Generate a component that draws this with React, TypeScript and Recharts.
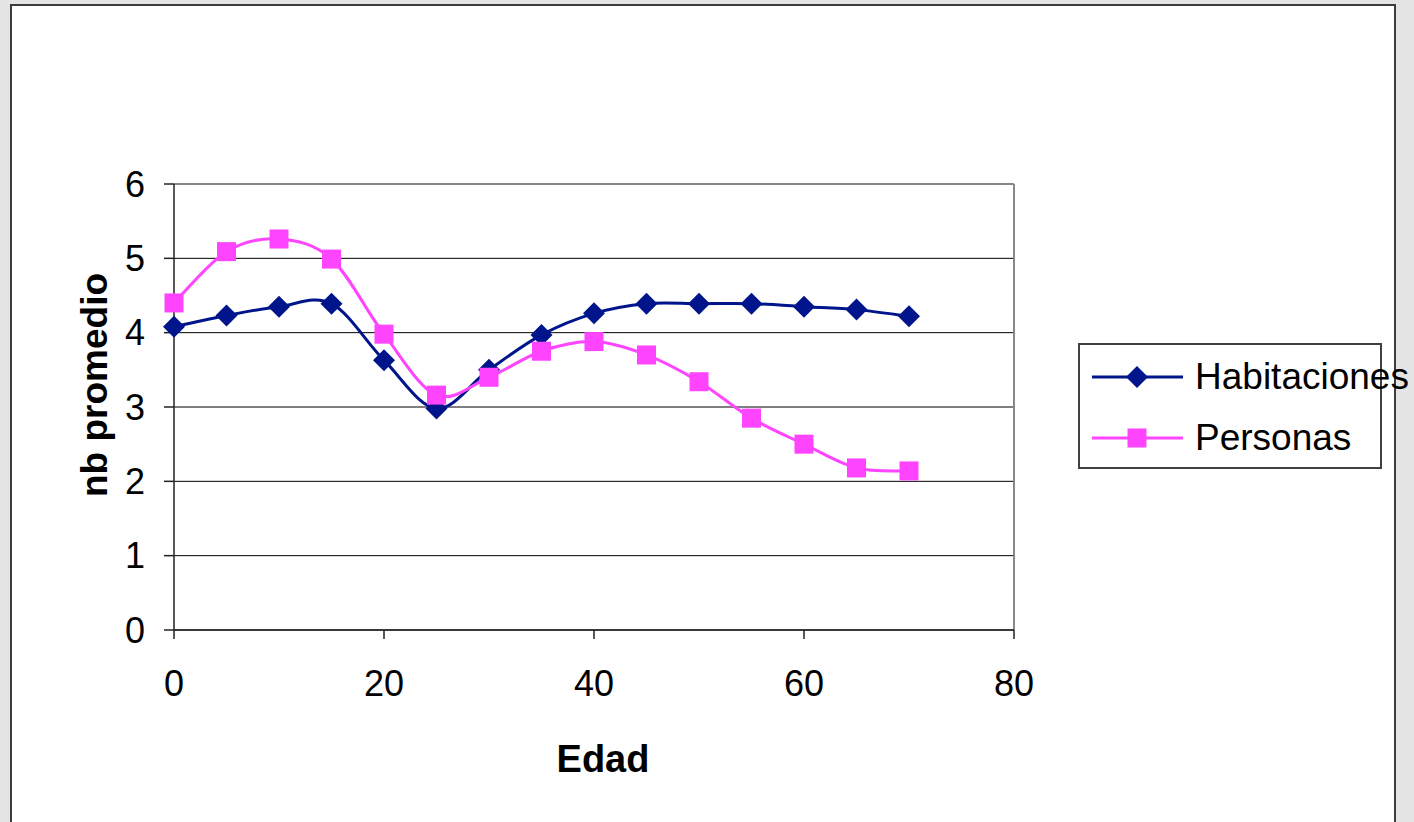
import React from 'react';
import { LineChart, Line, XAxis, YAxis, CartesianGrid, Legend, ReferenceLine, Label } from 'recharts';

const ages = [0, 5, 10, 15, 20, 25, 30, 35, 40, 45, 50, 55, 60, 65, 70];
const habitaciones = [4.08, 4.23, 4.35, 4.39, 3.63, 2.98, 3.5, 3.97, 4.26, 4.39, 4.39, 4.39, 4.35, 4.31, 4.22];
const personas = [4.4, 5.09, 5.26, 4.99, 3.98, 3.16, 3.4, 3.75, 3.88, 3.7, 3.34, 2.85, 2.5, 2.18, 2.14];
const xTicks = [0, 20, 40, 60, 80];
const yTicks = [0, 1, 2, 3, 4, 5, 6];

const NAVY = '#00158C';
const PINK = '#FF44FF';
const FONT = '"Liberation Sans", Arial, sans-serif';

const data = ages.map((a, i) => ({ edad: a, Habitaciones: habitaciones[i], Personas: personas[i] }));

// Excel-like smoothed line (Catmull-Rom as cubic Bezier)
function excelCurve(context: any) {
  let pts: number[][] = [];
  return {
    areaStart() {},
    areaEnd() {},
    lineStart() {
      pts = [];
    },
    lineEnd() {
      const n = pts.length;
      if (n === 0) return;
      context.moveTo(pts[0][0], pts[0][1]);
      for (let i = 0; i < n - 1; i++) {
        const p0 = pts[Math.max(0, i - 1)];
        const p1 = pts[i];
        const p2 = pts[i + 1];
        const p3 = pts[Math.min(n - 1, i + 2)];
        const c1x = p1[0] + (p2[0] - p0[0]) / 6;
        const c1y = p1[1] + (p2[1] - p0[1]) / 6;
        const c2x = p2[0] - (p3[0] - p1[0]) / 6;
        const c2y = p2[1] - (p3[1] - p1[1]) / 6;
        context.bezierCurveTo(c1x, c1y, c2x, c2y, p2[0], p2[1]);
      }
    },
    point(x: number, y: number) {
      pts.push([+x, +y]);
    },
  };
}

const diamondDot = (p: any) => {
  const { cx, cy, index } = p;
  const r = 11;
  return (
    <path
      key={`d-${index}`}
      d={`M${cx},${cy - r}L${cx + r},${cy}L${cx},${cy + r}L${cx - r},${cy}Z`}
      fill={NAVY}
      stroke="none"
    />
  );
};

const squareDot = (p: any) => {
  const { cx, cy, index } = p;
  const s = 19;
  return <rect key={`s-${index}`} x={cx - s / 2} y={cy - s / 2} width={s} height={s} fill={PINK} stroke="none" />;
};

const renderLegend = (props: any) => {
  const payload = props.payload || [];
  return (
    <div
      style={{
        boxSizing: 'border-box',
        width: 304,
        height: 126,
        border: '2px solid #404040',
        background: '#fff',
        fontFamily: FONT,
        position: 'relative',
      }}
    >
      {payload.map((entry: any, i: number) => {
        const isHab = entry.value === 'Habitaciones';
        const color = isHab ? NAVY : PINK;
        return (
          <div
            key={entry.value}
            style={{ position: 'absolute', left: 0, top: i === 0 ? 7 : 68, height: 50, width: 340, display: 'flex', alignItems: 'center' }}
          >
            <svg width={110} height={50} style={{ display: 'block' }}>
              <line x1={12} y1={25} x2={103} y2={25} stroke={color} strokeWidth={3} />
              {isHab ? (
                <path d="M57,14L68,25L57,36L46,25Z" fill={NAVY} />
              ) : (
                <rect x={47.5} y={15.5} width={19} height={19} fill={PINK} />
              )}
            </svg>
            <span style={{ fontSize: 37, color: '#000', marginLeft: 5, whiteSpace: 'nowrap', lineHeight: '50px' }}>{entry.value}</span>
          </div>
        );
      })}
    </div>
  );
};

const YTitle = (props: any) => {
  const vb = props.viewBox || { x: 0, y: 0, width: 0, height: 0 };
  const cx = vb.x + 94;
  const cy = vb.y + vb.height / 2 - 22;
  return (
    <text
      x={cx}
      y={cy}
      transform={`rotate(-90, ${cx}, ${cy})`}
      textAnchor="middle"
      dominantBaseline="central"
      fontFamily={FONT}
      fontWeight="bold"
      fontSize={37}
      fill="#000"
    >
      nb promedio
    </text>
  );
};

const XTitle = (props: any) => {
  const vb = props.viewBox || { x: 0, y: 0, width: 0, height: 0 };
  const cx = vb.x + vb.width / 2 + 9;
  return (
    <text x={cx} y={772} textAnchor="middle" fontFamily={FONT} fontWeight="bold" fontSize={38} fill="#000">
      Edad
    </text>
  );
};

export default function App() {
  return (
    <div style={{ position: 'fixed', left: 0, top: 0, width: 1414, height: 822, background: '#e4e4e4', overflow: 'hidden' }}>
      <div
        style={{
          position: 'absolute',
          left: 10,
          top: 4,
          width: 1386,
          height: 900,
          boxSizing: 'border-box',
          border: '2px solid #3c3c3c',
          background: '#fff',
        }}
      />
      <div style={{ position: 'absolute', left: 0, top: 0 }}>
        <LineChart width={1414} height={822} data={data} margin={{ top: 184, right: 400, bottom: 132, left: 0 }}>
          <CartesianGrid vertical={false} stroke="#000" strokeWidth={1} />
          <ReferenceLine y={6} stroke="#888" strokeWidth={2} />
          <ReferenceLine x={80} stroke="#888" strokeWidth={2} />
          <XAxis
            dataKey="edad"
            type="number"
            domain={[0, 80]}
            ticks={xTicks}
            interval={0}
            height={60}
            tickSize={9}
            tickMargin={31}
            axisLine={{ stroke: '#222', strokeWidth: 1.5 }}
            tickLine={{ stroke: '#222', strokeWidth: 1.5 }}
            tick={{ fontSize: 36, fill: '#000', fontFamily: FONT }}
          >
            <Label content={XTitle} />
          </XAxis>
          <YAxis
            type="number"
            domain={[0, 6]}
            ticks={yTicks}
            interval={0}
            width={174}
            tickSize={10}
            tickMargin={19}
            axisLine={{ stroke: '#222', strokeWidth: 1.5 }}
            tickLine={{ stroke: '#222', strokeWidth: 1.5 }}
            tick={{ fontSize: 36, fill: '#000', fontFamily: FONT }}
          >
            <Label content={YTitle} />
          </YAxis>
          <Legend
            layout="horizontal"
            align="center"
            verticalAlign="middle"
            content={renderLegend}
            wrapperStyle={{ left: 1078, top: 343, width: 304, height: 126 }}
          />
          <Line
            type={excelCurve as any}
            dataKey="Habitaciones"
            stroke={NAVY}
            strokeWidth={3}
            dot={diamondDot}
            activeDot={false}
            isAnimationActive={false}
          />
          <Line
            type={excelCurve as any}
            dataKey="Personas"
            stroke={PINK}
            strokeWidth={3}
            dot={squareDot}
            activeDot={false}
            isAnimationActive={false}
          />
        </LineChart>
      </div>
    </div>
  );
}
